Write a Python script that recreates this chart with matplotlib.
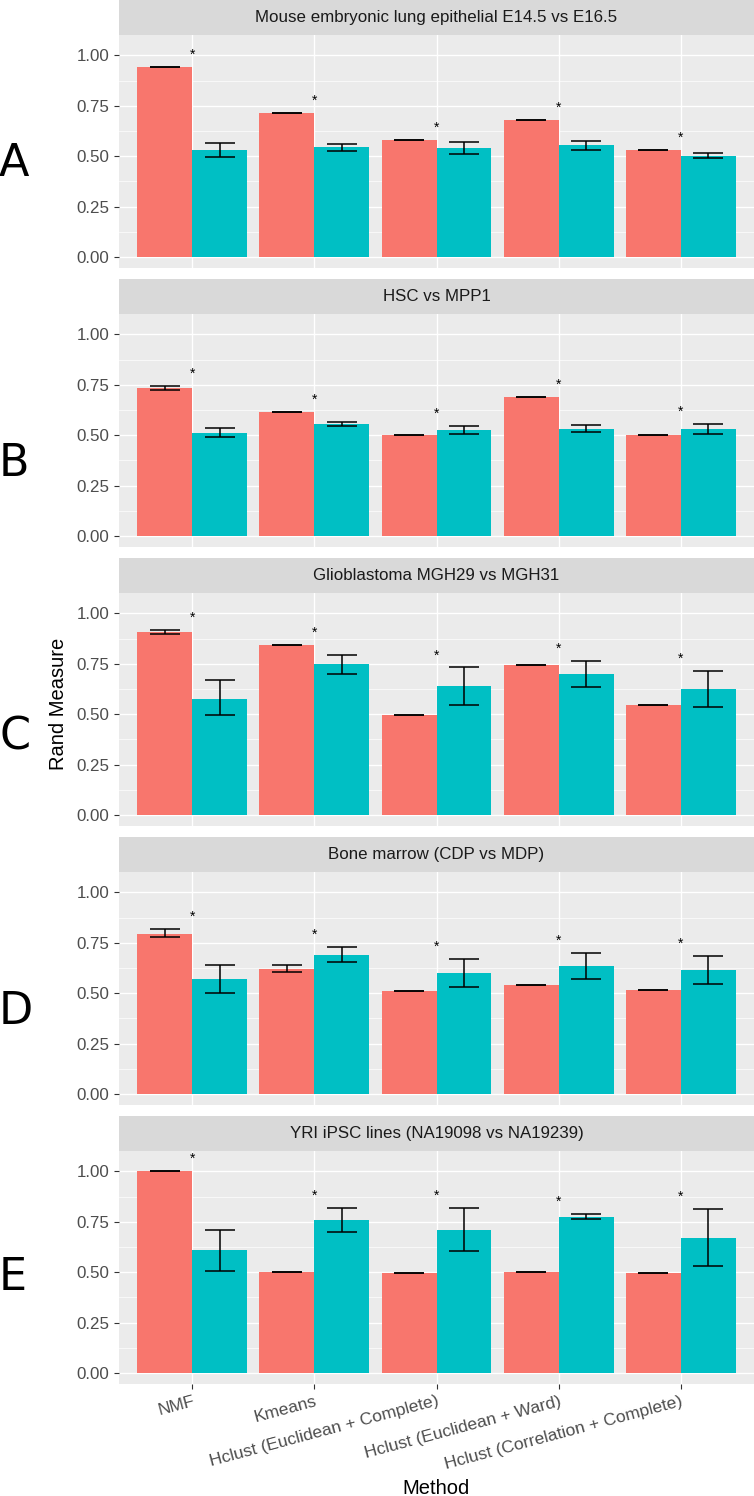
import numpy as np
import matplotlib
matplotlib.use("Agg")
import matplotlib.pyplot as plt

plt.rcParams['font.family'] = ['Liberation Sans', 'DejaVu Sans']

methods = ["NMF", "Kmeans", "Hclust (Euclidean + Complete)",
           "Hclust (Euclidean + Ward)", "Hclust (Correlation + Complete)"]
titles = ["Mouse embryonic lung epithelial E14.5 vs E16.5",
          "HSC vs MPP1",
          "Glioblastoma MGH29 vs MGH31",
          "Bone marrow (CDP vs MDP)",
          "YRI iPSC lines (NA19098 vs NA19239)"]
letters = ["A", "B", "C", "D", "E"]

# red bars (first group)
red_mean = [[0.942, 0.716, 0.579, 0.682, 0.530],
            [0.735, 0.616, 0.499, 0.689, 0.499],
            [0.907, 0.843, 0.497, 0.742, 0.544],
            [0.796, 0.621, 0.513, 0.540, 0.515],
            [1.000, 0.500, 0.498, 0.502, 0.498]]
red_lo = [[0.942, 0.716, 0.579, 0.682, 0.530],
          [0.724, 0.616, 0.499, 0.689, 0.499],
          [0.899, 0.843, 0.497, 0.742, 0.544],
          [0.780, 0.607, 0.513, 0.540, 0.515],
          [1.000, 0.500, 0.498, 0.502, 0.498]]
red_hi = [[0.942, 0.716, 0.579, 0.682, 0.530],
          [0.745, 0.616, 0.499, 0.689, 0.499],
          [0.916, 0.843, 0.497, 0.742, 0.544],
          [0.817, 0.638, 0.513, 0.540, 0.515],
          [1.000, 0.500, 0.498, 0.502, 0.498]]

# teal bars (second group)
teal_mean = [[0.530, 0.545, 0.540, 0.554, 0.503],
             [0.512, 0.554, 0.524, 0.530, 0.529],
             [0.578, 0.747, 0.640, 0.699, 0.625],
             [0.569, 0.690, 0.599, 0.635, 0.613],
             [0.609, 0.757, 0.711, 0.774, 0.671]]
teal_lo = [[0.497, 0.525, 0.510, 0.531, 0.490],
           [0.492, 0.545, 0.504, 0.514, 0.507],
           [0.494, 0.700, 0.544, 0.635, 0.537],
           [0.502, 0.653, 0.530, 0.572, 0.545],
           [0.505, 0.698, 0.604, 0.762, 0.531]]
teal_hi = [[0.568, 0.563, 0.569, 0.578, 0.516],
           [0.535, 0.564, 0.547, 0.552, 0.555],
           [0.668, 0.793, 0.732, 0.765, 0.716],
           [0.639, 0.730, 0.672, 0.700, 0.684],
           [0.711, 0.820, 0.820, 0.788, 0.812]]

RED = "#F8766D"
TEAL = "#00BFC4"
W, H = 754, 1496

fig = plt.figure(figsize=(W / 100, H / 100), dpi=100)


def px_rect(left, top, width, height):
    return [left / W, 1 - (top + height) / H, width / W, height / H]


x = np.arange(1, len(methods) + 1)
bw = 0.45
panel_left, panel_w = 119, 635
panel_h, strip_h = 233, 34.5

for i in range(5):
    top = 34.7 + 279 * i
    ax = fig.add_axes(px_rect(panel_left, top, panel_w, panel_h))
    ax.set_facecolor("#EBEBEB")
    ax.set_xlim(0.4, 5.6)
    ax.set_ylim(-0.0525, 1.1025)
    ax.set_yticks([0, 0.25, 0.5, 0.75, 1.0])
    ax.set_yticklabels(["0.00", "0.25", "0.50", "0.75", "1.00"])
    ax.set_yticks([0.125, 0.375, 0.625, 0.875], minor=True)
    ax.set_xticks(x)
    ax.grid(True, which="major", color="white", lw=1.0)
    ax.grid(True, which="minor", axis="y", color="white", lw=0.5)
    ax.set_axisbelow(True)
    for s in ax.spines.values():
        s.set_visible(False)
    ax.tick_params(which="major", length=3.6, width=0.8, color="#333333",
                   labelsize=12.2, labelcolor="#4D4D4D", pad=3.5)
    ax.tick_params(which="minor", length=0)

    rm = np.array(red_mean[i])
    tm = np.array(teal_mean[i])
    ax.bar(x - bw / 2, rm, bw, color=RED, zorder=2)
    ax.bar(x + bw / 2, tm, bw, color=TEAL, zorder=2)
    ax.errorbar(x - bw / 2, rm,
                yerr=[rm - np.array(red_lo[i]), np.array(red_hi[i]) - rm],
                fmt="none", ecolor="black", elinewidth=1.1, capsize=11,
                capthick=1.1, zorder=3)
    ax.errorbar(x + bw / 2, tm,
                yerr=[tm - np.array(teal_lo[i]), np.array(teal_hi[i]) - tm],
                fmt="none", ecolor="black", elinewidth=1.1, capsize=11,
                capthick=1.1, zorder=3)
    star_y = np.maximum(red_hi[i], teal_hi[i]) + 0.06
    for xx, yy in zip(x, star_y):
        ax.text(xx, yy, "*", ha="center", va="center", fontsize=10,
                color="black", zorder=4)

    if i < 4:
        ax.tick_params(axis="x", which="major", length=0)
        ax.set_xticklabels([])
    else:
        ax.set_xticklabels(methods, rotation=15, ha="right", va="top",
                           rotation_mode="anchor", fontsize=12.6,
                           color="#4D4D4D")

    # facet strip
    sax = fig.add_axes(px_rect(panel_left, top - strip_h, panel_w, strip_h))
    sax.set_facecolor("#D9D9D9")
    sax.set_xticks([])
    sax.set_yticks([])
    for s in sax.spines.values():
        s.set_visible(False)
    sax.text(0.5, 0.5, titles[i], ha="center", va="center", fontsize=12.2,
             color="#1A1A1A", transform=sax.transAxes)

letter_y = [163, 463, 737, 1012, 1278]
for lab, ly in zip(letters, letter_y):
    fig.text(-1 / W, 1 - ly / H, lab, ha="left", va="center", fontsize=32,
             family="DejaVu Sans", color="black")

fig.text(59 / W, 1 - 704 / H, "Rand Measure", rotation=90, ha="center",
         va="center", fontsize=14.5, color="black")
fig.text((panel_left + panel_w / 2) / W, 1 - 1498 / H, "Method",
         ha="center", va="bottom", fontsize=14.5, color="black")

fig.savefig("out.png", dpi=100)
